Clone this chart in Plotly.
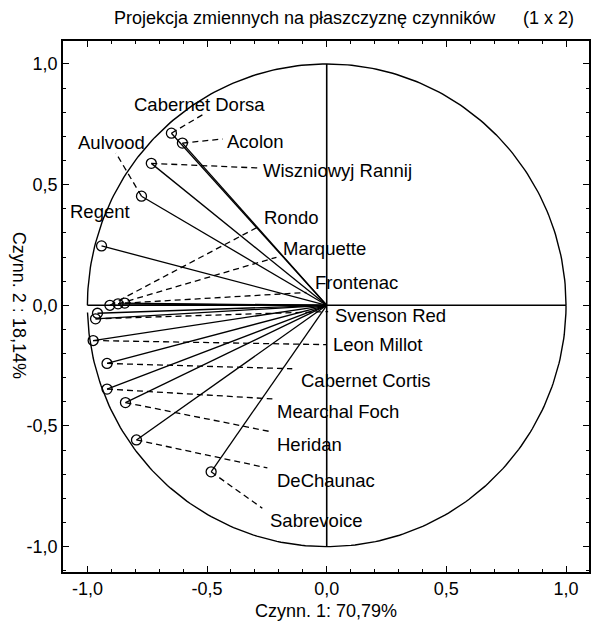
import numpy as np
import plotly.graph_objects as go

# ---- data: factor loadings ----
variables = ["Cabernet Dorsa", "Acolon", "Wiszniowyj Rannij", "Aulvood", "Regent",
             "Rondo", "Marquette", "Frontenac", "Svenson Red", "",
             "Leon Millot", "Cabernet Cortis", "Mearchal Foch", "Heridan",
             "DeChaunac", "Sabrevoice"]
factor1 = [-0.649, -0.603, -0.733, -0.774, -0.941, -0.906, -0.872, -0.844, -0.966, -0.958,
           -0.976, -0.918, -0.918, -0.841, -0.795, -0.483]
factor2 = [0.713, 0.672, 0.588, 0.452, 0.246, 0.000, 0.006, 0.009, -0.056, -0.033,
           -0.146, -0.241, -0.347, -0.403, -0.558, -0.690]

tick_vals = [-1.0, -0.5, 0.0, 0.5, 1.0]
tick_text = ["-1,0", "-0,5", "0,0", "0,5", "1,0"]

title_text = "Projekcja zmiennych na płaszczyznę czynników"
title_suffix = "(1 x 2)"
x_title = "Czynn. 1: 70,79%"
y_title = "Czynn. 2 : 18,14%"

# ---- label placement (layout, in data coordinates) ----
label_x = [-0.812, -0.427, -0.273, -1.046, -1.083, -0.269, -0.190, -0.056, 0.027, None,
           0.019, -0.115, -0.215, -0.215, -0.215, -0.244]
label_y = [0.833, 0.680, 0.560, 0.673, 0.388, 0.365, 0.236, 0.095, -0.044, None,
           -0.164, -0.313, -0.438, -0.576, -0.724, -0.892]
leader_x = [-0.506, -0.435, -0.290, -0.881, None, -0.290, -0.210, -0.085, 0.006, None,
            -0.002, -0.144, -0.227, -0.227, -0.248, -0.269]
leader_y = [0.797, 0.689, 0.569, 0.631, None, 0.323, 0.199, 0.053, -0.026, None,
            -0.163, -0.263, -0.388, -0.525, -0.674, -0.841]

FONT = "Liberation Sans, Arial, sans-serif"
BLACK = "#000000"

fig = go.Figure()

# unit circle (with the small break just below the left end of the horizontal axis)
th1 = np.linspace(0, np.pi, 181)
th2 = np.linspace(np.pi + 0.03, 2 * np.pi, 181)
cx = list(np.cos(th1)) + [None] + list(np.cos(th2))
cy = list(np.sin(th1)) + [None] + list(np.sin(th2))
fig.add_trace(go.Scatter(x=cx, y=cy, mode="lines",
                         line=dict(color=BLACK, width=1.4), hoverinfo="skip"))

# axes through origin
fig.add_trace(go.Scatter(x=[-1, 1, None, 0, 0], y=[0, 0, None, -1, 1], mode="lines",
                         line=dict(color=BLACK, width=1.6), hoverinfo="skip"))

# vectors from origin
vx, vy = [], []
for a, b in zip(factor1, factor2):
    vx += [0, a, None]
    vy += [0, b, None]
fig.add_trace(go.Scatter(x=vx, y=vy, mode="lines",
                         line=dict(color=BLACK, width=1.3), hoverinfo="skip"))

# dashed leaders from points to labels
dx, dy = [], []
for a, b, lx, ly in zip(factor1, factor2, leader_x, leader_y):
    if lx is None:
        continue
    dx += [a, lx, None]
    dy += [b, ly, None]
fig.add_trace(go.Scatter(x=dx, y=dy, mode="lines",
                         line=dict(color=BLACK, width=1.3, dash="6px,4px"), hoverinfo="skip"))

# points
fig.add_trace(go.Scatter(x=factor1, y=factor2, mode="markers", text=variables,
                         marker=dict(symbol="circle-open", size=10, color=BLACK,
                                     line=dict(color=BLACK, width=1.3))))

annotations = []
for name, lx, ly in zip(variables, label_x, label_y):
    if not name or lx is None:
        continue
    annotations.append(dict(x=lx, y=ly, xref="x", yref="y", text=name, showarrow=False,
                            xanchor="left", yanchor="middle",
                            font=dict(family=FONT, size=18.5, color=BLACK)))

L, R, T, B = 63, 2, 41, 57
W, H = 593, 629
pw, ph = W - L - R, H - T - B

def px_x(p):
    return (p - L) / pw

def px_y(p):
    return (H - B - p) / ph

annotations.append(dict(x=px_x(112), y=px_y(18), xref="paper", yref="paper", text=title_text,
                        showarrow=False, xanchor="left", yanchor="middle",
                        font=dict(family=FONT, size=18, color=BLACK)))
annotations.append(dict(x=px_x(578), y=px_y(18), xref="paper", yref="paper", text=title_suffix,
                        showarrow=False, xanchor="right", yanchor="middle",
                        font=dict(family=FONT, size=18, color=BLACK)))
annotations.append(dict(x=px_x(327), y=px_y(611), xref="paper", yref="paper", text=x_title,
                        showarrow=False, xanchor="center", yanchor="middle",
                        font=dict(family=FONT, size=18, color=BLACK)))
annotations.append(dict(x=px_x(19), y=px_y(305), xref="paper", yref="paper", text=y_title,
                        showarrow=False, xanchor="center", yanchor="middle", textangle=90,
                        font=dict(family=FONT, size=18, color=BLACK)))

axis_common = dict(showgrid=False, zeroline=False, showline=True, linecolor=BLACK, linewidth=1.6,
                   mirror="ticks", ticks="inside", ticklen=6, tickwidth=1.2, tickcolor=BLACK,
                   tickvals=tick_vals, ticktext=tick_text,
                   tickfont=dict(family=FONT, size=18, color=BLACK),
                   minor=dict(dtick=0.1, tick0=0, ticks="inside", ticklen=3, tickwidth=1,
                              tickcolor=BLACK))

fig.update_layout(
    width=W, height=H,
    margin=dict(l=L, r=R, t=T, b=B),
    paper_bgcolor="white", plot_bgcolor="white",
    showlegend=False,
    xaxis=dict(range=[-1.102, 1.096], **axis_common),
    yaxis=dict(range=[-1.105, 1.095], **axis_common),
    annotations=annotations,
)

fig.write_html("out.html")
